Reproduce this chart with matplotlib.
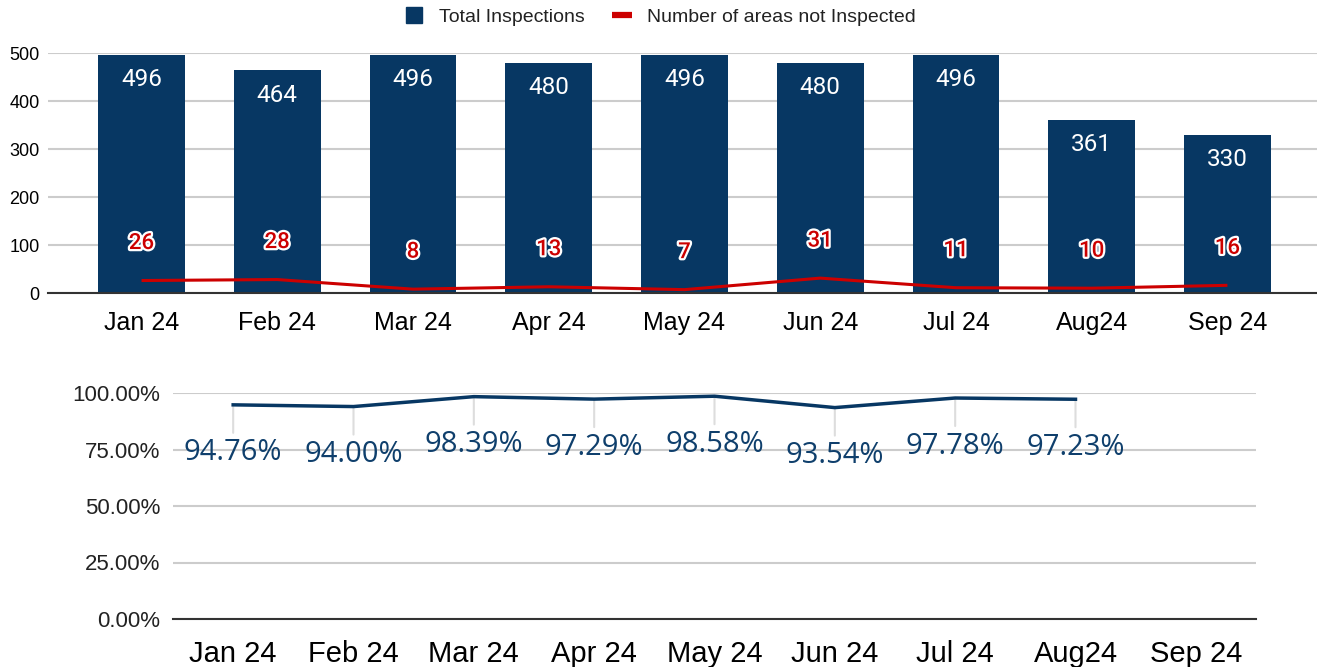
import matplotlib
matplotlib.use("Agg")
import matplotlib.pyplot as plt
import matplotlib.patheffects as pe
from matplotlib.lines import Line2D
from matplotlib.ticker import FuncFormatter

months_top = ["Jan 24", "Feb 24", "Mar 24", "Apr 24", "May 24", "Jun 24", "Jul 24", "Aug24", "Sep 24"]
total_inspections = [496, 464, 496, 480, 496, 480, 496, 361, 330]
not_inspected = [26, 28, 8, 13, 7, 31, 11, 10, 16]

months_bottom = ["Jan 24", "Feb 24", "Mar 24", "Apr 24", "May 24", "Jun 24", "Jul 24", "Aug24", "Sep 24"]
pct_values = [94.76, 94.00, 98.39, 97.29, 98.58, 93.54, 97.78, 97.23]

BLUE = "#073763"
RED = "#cc0000"
GRID = "#cccccc"
TXT = "#222222"

DPI = 100
fig = plt.figure(figsize=(13.17, 6.67), dpi=DPI)
W, H = 1317, 667

def ax_rect(l, r, t, b):
    return [l / W, 1 - b / H, (r - l) / W, (b - t) / H]

# ---------- top chart ----------
ax1 = fig.add_axes(ax_rect(48, 1317, 53, 293))
x = list(range(len(months_top)))
ax1.bar(x, total_inspections, width=0.64, color=BLUE, zorder=2)
ax1.plot(x, not_inspected, color=RED, lw=2.2, zorder=3, solid_capstyle="butt")
ax1.set_xlim(-0.689, 8.66)
ax1.set_ylim(0, 500)
ax1.set_yticks([0, 100, 200, 300, 400, 500])
ax1.yaxis.grid(True, color=GRID, lw=1.5, zorder=0)
ax1.set_axisbelow(True)
for s in ["top", "right", "left"]:
    ax1.spines[s].set_visible(False)
ax1.spines["bottom"].set_color("#333333")
ax1.spines["bottom"].set_linewidth(1.5)
ax1.spines["bottom"].set_zorder(4)
ax1.set_xticks(x)
ax1.set_xticklabels(months_top, fontsize=18, family="Liberation Sans", color="black")
ax1.tick_params(axis="x", length=0, pad=13)
ax1.tick_params(axis="y", length=0, pad=6, labelsize=13, labelcolor="black")
for lab in ax1.get_yticklabels():
    lab.set_family("Liberation Sans")

for i, v in enumerate(total_inspections):
    ax1.annotate(str(v), xy=(i, v), xytext=(0, -25), textcoords="offset pixels",
                 ha="center", va="center", color="white", fontsize=17.5,
                 family="Roboto", zorder=5)
for i, v in enumerate(not_inspected):
    ax1.annotate(str(v), xy=(i, v), xytext=(0, 37), textcoords="offset pixels",
                 ha="center", va="center", color=RED, fontsize=16,
                 family="Roboto", fontweight="medium", zorder=6,
                 path_effects=[pe.Stroke(linewidth=3.2, foreground="white"), pe.Normal()])

handles = [
    Line2D([], [], marker="s", color=BLUE, markersize=12, linestyle="none"),
    Line2D([], [], color=RED, lw=4.5, solid_capstyle="butt"),
]
fig.legend(handles, ["Total Inspections", "Number of areas not Inspected"],
           loc="center", bbox_to_anchor=(660 / W, 1 - 17 / H), ncol=2,
           frameon=False, prop={"family": "Liberation Sans", "size": 14},
           labelcolor=TXT, handlelength=1.0, handletextpad=0.8, columnspacing=1.4)

# ---------- bottom chart ----------
ax2 = fig.add_axes(ax_rect(173, 1256, 393, 619))
xb = list(range(len(months_bottom)))
xp = xb[:len(pct_values)]
for i, v in zip(xp, pct_values):
    ax2.annotate("", xy=(i, v), xytext=(0, -28), textcoords="offset pixels",
                 arrowprops=dict(arrowstyle="-", color="#dddddd", lw=1.5,
                                 shrinkA=0, shrinkB=0), zorder=2)
ax2.plot(xp, pct_values, color=BLUE, lw=2.5, zorder=3)
for i, v in zip(xp, pct_values):
    ax2.annotate(f"{v:.2f}%", xy=(i, v), xytext=(0, -48), textcoords="offset pixels",
                 ha="center", va="center", color="#0f3f6c", fontsize=21,
                 family="Open Sans", zorder=5)
ax2.set_xlim(-0.5, 8.5)
ax2.set_ylim(0, 100)
ax2.set_yticks([0, 25, 50, 75, 100])
ax2.yaxis.set_major_formatter(FuncFormatter(lambda v, p: f"{v:.2f}%"))
ax2.yaxis.grid(True, color=GRID, lw=1.5, zorder=0)
ax2.set_axisbelow(True)
for s in ["top", "right", "left"]:
    ax2.spines[s].set_visible(False)
ax2.spines["bottom"].set_color("#333333")
ax2.spines["bottom"].set_linewidth(1.5)
ax2.set_xticks(xb)
ax2.set_xticklabels(months_bottom, fontsize=21, family="Liberation Sans", color="black")
ax2.tick_params(axis="x", length=0, pad=15)
ax2.tick_params(axis="y", length=0, pad=9, labelsize=16, labelcolor=TXT)
for lab in ax2.get_yticklabels():
    lab.set_family("Liberation Sans")

fig.savefig("out.png", dpi=DPI, facecolor="white")
